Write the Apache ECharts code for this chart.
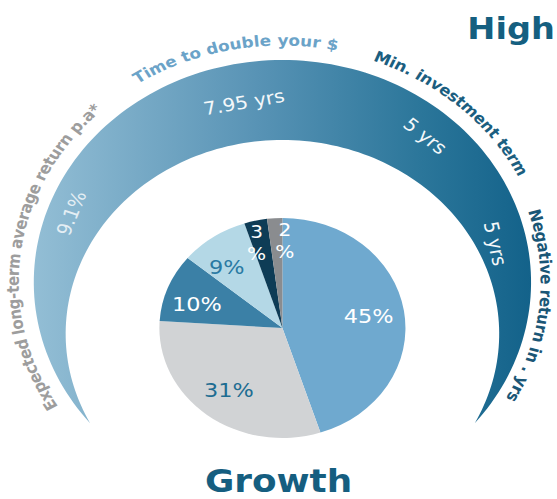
<!DOCTYPE html>
<html>
<head>
<meta charset="utf-8">
<script src="https://cdn.jsdelivr.net/npm/echarts@6/dist/echarts.min.js"></script>
<style>
  html, body { margin: 0; padding: 0; background: #fff; overflow: hidden; }
  #frame { width: 557px; height: 499px; overflow: hidden; }
  /* the artwork is laid out on a 498px canvas and widened to the 557px frame */
  #chart { width: 498px; height: 499px; transform: scaleX(1.1185); transform-origin: 0 0; }
</style>
</head>
<body>
<div id="frame"><div id="chart"></div></div>
<script>
// Asset allocation of the Growth option (percent of portfolio)
const shareValues = [45, 31, 10, 9, 3, 2];

// Key figures printed inside the curved band, and their captions around it
const bandCaptions = [
  'Expected long-term average return p.a*',
  'Time to double your $',
  'Min. investment term',
  'Negative return in . yrs'
];
const bandFigures = ['9.1%', '7.95 yrs', '5 yrs', '5 yrs'];

const riskLevel = 'High';
const optionName = 'Growth';

// ---- styling ----
const sliceColors = ['#6fa9cf', '#d1d3d5', '#3b80a6', '#b4d8e6', '#0e3c56', '#8a8c8f'];
const sliceLabelColors = ['#ffffff', '#1e6d92', '#ffffff', '#2a7aa3', '#ffffff', '#ffffff'];
const captionColors = ['#9d9d9d', '#6ba3c8', '#1b5e80', '#1a5676'];
const figureColors = ['#e4eef4', '#f4f8fa', '#f4f8fa', '#f4f8fa'];

// ---- layout (angles in degrees, clockwise from 12 o'clock) ----
const ring = { cx: 252.5, outerCy: 282.3, outerR: 222.3, innerCy: 333.8, innerR: 193.8 };
const captionRadii = [241, 242, 241, 236];
const captionArcs = [[-120.6, -44.1], [-31.9, 10.7], [21.8, 61.6], [73.6, 119.1]];
const figureSpots = [[-69.9, 200.8], [-10.8, 183.6], [41.1, 194], [78.5, 194]];
const pieCenter = [252.5, 328];
const pieRadius = 110;
// label nudges (px) that keep the labels of the narrow slices clear of each other
const labelNudges = { 2: [-4, 5], 3: [-6, 3], 4: [-6, -9], 5: [7, -9] };

const deg = Math.PI / 180;
const captionFont = { fontSize: 15, fontWeight: 'bold', fontFamily: '"DejaVu Sans"' };

function polar(cx, cy, r, a) {
  return [cx + r * Math.sin(a), cy - r * Math.cos(a)];
}

// Crescent band: area inside the outer circle and outside the lower inner circle
function bandPoints() {
  const d = ring.innerCy - ring.outerCy;
  const a = (ring.outerR * ring.outerR - ring.innerR * ring.innerR + d * d) / (2 * d);
  const tOuter = Math.acos(-a / ring.outerR);
  const tInner = Math.acos(-(a - d) / ring.innerR);
  const pts = [];
  const N = 160;
  for (let i = 0; i <= N; i++) {
    const t = -tOuter + (2 * tOuter) * i / N;
    pts.push(polar(ring.cx, ring.outerCy, ring.outerR, t));
  }
  for (let i = 0; i <= N; i++) {
    const t = tInner - (2 * tInner) * i / N;
    pts.push(polar(ring.cx, ring.innerCy, ring.innerR, t));
  }
  return pts;
}

// Text set letter by letter along a circle, reading clockwise
const measureCtx = document.createElement('canvas').getContext('2d');
function arcText(str, a0, a1, r, color) {
  measureCtx.font = captionFont.fontWeight + ' ' + captionFont.fontSize + 'px ' + captionFont.fontFamily;
  const chars = Array.from(str);
  const w = chars.map(c => measureCtx.measureText(c).width);
  let natural = 0;
  for (let i = 0; i < chars.length - 1; i++) natural += (w[i] + w[i + 1]) / 2;
  const span = (a1 - a0) * deg * r;
  const extra = (span - natural) / (chars.length - 1);
  const out = [];
  let s = 0;
  chars.forEach((c, i) => {
    const a = a0 * deg + s / r;
    const p = polar(ring.cx, ring.outerCy, r, a);
    out.push({
      type: 'text', x: p[0], y: p[1], rotation: -a, silent: true,
      style: Object.assign({
        text: c, fill: color,
        align: 'center', verticalAlign: 'middle',
        textAlign: 'center', textVerticalAlign: 'middle'
      }, captionFont)
    });
    if (i < chars.length - 1) s += (w[i] + w[i + 1]) / 2 + extra;
  });
  return out;
}

const elements = [];
elements.push({
  type: 'polygon', silent: true,
  shape: { points: bandPoints() },
  style: {
    fill: new echarts.graphic.LinearGradient(0, 0, 1, 0, [
      { offset: 0, color: '#93bed5' },
      { offset: 0.45, color: '#5893b5' },
      { offset: 0.78, color: '#2b769a' },
      { offset: 1, color: '#13628a' }
    ])
  }
});
bandCaptions.forEach((t, i) => {
  elements.push(...arcText(t, captionArcs[i][0], captionArcs[i][1], captionRadii[i], captionColors[i]));
});
bandFigures.forEach((t, i) => {
  const a = figureSpots[i][0] * deg;
  const p = polar(ring.cx, ring.outerCy, figureSpots[i][1], a);
  elements.push({
    type: 'text', x: p[0], y: p[1], rotation: -a, silent: true,
    style: {
      text: t, fill: figureColors[i], fontSize: 18, fontFamily: '"DejaVu Sans"',
      align: 'center', verticalAlign: 'middle', textAlign: 'center', textVerticalAlign: 'middle'
    }
  });
});
elements.push({
  type: 'text', x: 496, y: 29, silent: true,
  style: {
    text: riskLevel, fill: '#155f80', fontSize: 30, fontWeight: 'bold', fontFamily: '"DejaVu Sans"',
    align: 'right', verticalAlign: 'middle', textAlign: 'right', textVerticalAlign: 'middle'
  }
});
elements.push({
  type: 'text', x: 249, y: 481, silent: true,
  style: {
    text: optionName, fill: '#155e80', fontSize: 32, fontWeight: 'bold', fontFamily: '"DejaVu Sans"',
    align: 'center', verticalAlign: 'middle', textAlign: 'center', textVerticalAlign: 'middle'
  }
});

const sliceData = shareValues.map((v, i) => ({ value: v, itemStyle: { color: sliceColors[i] } }));
const labelData = shareValues.map((v, i) => ({
  value: v,
  itemStyle: { color: 'rgba(0,0,0,0)' },
  label: v <= 3
    ? { color: sliceLabelColors[i], fontSize: 18, lineHeight: 22 }
    : { color: sliceLabelColors[i] }
}));

const chart = echarts.init(document.getElementById('chart'), null, { renderer: 'svg' });
chart.setOption({
  animation: false,
  backgroundColor: '#ffffff',
  graphic: { elements: elements },
  series: [
    {
      type: 'pie', center: pieCenter, radius: [0, pieRadius],
      startAngle: 90, clockwise: true, silent: true,
      label: { show: false }, labelLine: { show: false },
      data: sliceData
    },
    {
      type: 'pie', center: pieCenter, radius: [40, pieRadius],
      startAngle: 90, clockwise: true, silent: true, avoidLabelOverlap: false,
      minShowLabelAngle: 0,
      label: {
        show: true, position: 'inside',
        fontSize: 20, fontFamily: '"DejaVu Sans"', lineHeight: 22,
        formatter: p => p.value <= 3 ? p.value + '\n%' : p.value + '%'
      },
      labelLayout: p => {
        const n = labelNudges[p.dataIndex];
        return n ? { hideOverlap: false, dx: n[0], dy: n[1] } : { hideOverlap: false };
      },
      labelLine: { show: false },
      data: labelData
    }
  ]
});
</script>
</body>
</html>
